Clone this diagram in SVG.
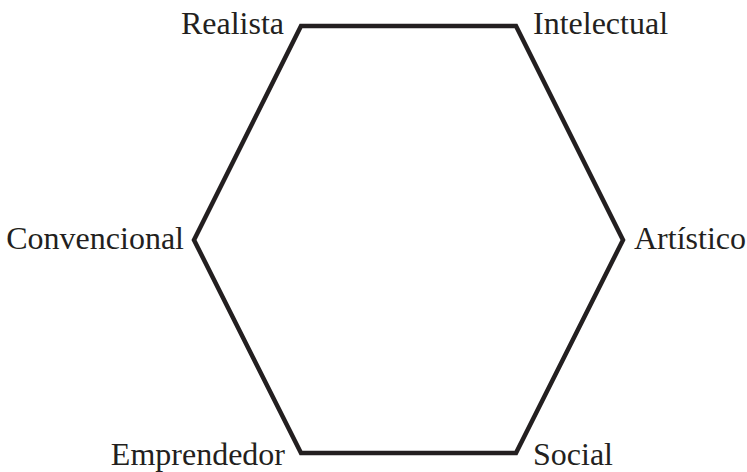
<svg xmlns="http://www.w3.org/2000/svg" width="747" height="472" viewBox="0 0 747 472">
<style>
.lbl{font-family:"Liberation Serif","Times New Roman",serif;font-size:32px;fill:#231f20}
.edge{fill:none;stroke:#231f20;stroke-width:4.5;stroke-linejoin:miter}
</style>
<rect width="747" height="472" fill="#ffffff"/>
<g id="connectors">
<polygon class="edge" points="301,26 516,26 623,240 516,453 301,453 194,240"/>
</g>
<g id="realista"><text class="lbl" x="284" y="34" text-anchor="end">Realista</text></g>
<g id="intelectual"><text class="lbl" x="533" y="34">Intelectual</text></g>
<g id="convencional"><text class="lbl" x="184" y="249" text-anchor="end">Convencional</text></g>
<g id="artistico"><text class="lbl" x="634" y="249">Artístico</text></g>
<g id="emprendedor"><text class="lbl" x="285" y="465" text-anchor="end">Emprendedor</text></g>
<g id="social"><text class="lbl" x="533" y="465">Social</text></g>
</svg>
